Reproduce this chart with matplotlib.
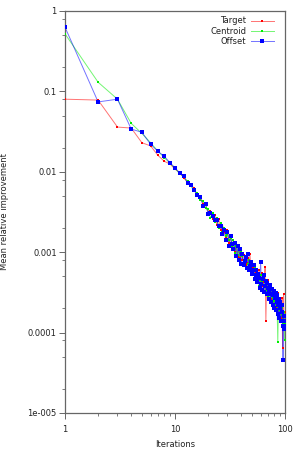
import matplotlib
matplotlib.use('Agg')
import matplotlib.pyplot as plt
from matplotlib.ticker import FixedLocator, FixedFormatter, LogLocator, NullFormatter

iterations = list(range(1, 101))

target = [0.080, 0.078, 0.036, 0.035, 0.023, 0.021, 0.016, 0.0135, 0.0125, 0.0108,
          0.0098, 0.0084, 0.0074, 0.0068, 0.0062, 0.0050, 0.0047, 0.0040, 0.0039, 0.0031,
          0.0033, 0.0026, 0.0029, 0.0022, 0.0026, 0.0019, 0.0022, 0.0018, 0.0015, 0.0019,
          0.0013, 0.0016, 0.0011, 0.0014, 0.0010, 0.0013, 0.00088, 0.0012, 0.00085, 0.0011,
          0.00080, 0.00092, 0.00088, 0.00070, 0.00074, 0.00085, 0.00062, 0.00095, 0.00060, 0.00058,
          0.00066, 0.00070, 0.00050, 0.00055, 0.00062, 0.00045, 0.00048, 0.00060, 0.00052, 0.00040,
          0.00046, 0.00055, 0.00038, 0.00042, 0.00050, 0.00066, 0.00014, 0.00042, 0.00035, 0.00045,
          0.00030, 0.00033, 0.00040, 0.00026, 0.00030, 0.00036, 0.00032, 0.00022, 0.00028, 0.00034,
          0.00025, 0.00020, 0.00030, 0.00027, 0.00018, 0.00024, 0.00031, 0.00016, 0.00022, 0.00026,
          0.00019, 0.00015, 0.00021, 0.00027, 0.000065, 0.00017, 0.00030, 0.00012, 0.00018, 0.00011]

centroid = [0.52, 0.13, 0.080, 0.040, 0.030, 0.023, 0.018, 0.0150, 0.0128, 0.0110,
            0.0095, 0.0087, 0.0076, 0.0066, 0.0057, 0.0054, 0.0044, 0.0043, 0.0035, 0.0034,
            0.0027, 0.0031, 0.0024, 0.0027, 0.0020, 0.0023, 0.0018, 0.0020, 0.0016, 0.0017,
            0.0014, 0.0015, 0.0012, 0.0014, 0.00098, 0.0012, 0.00092, 0.0011, 0.00080, 0.0010,
            0.00090, 0.00075, 0.00082, 0.00078, 0.00065, 0.00072, 0.00080, 0.00058, 0.00066, 0.00062,
            0.00052, 0.00058, 0.00064, 0.00047, 0.00044, 0.00056, 0.00050, 0.00038, 0.00045, 0.00052,
            0.00036, 0.00042, 0.00047, 0.00033, 0.00039, 0.00044, 0.00030, 0.00034, 0.00040, 0.00028,
            0.00036, 0.00031, 0.00024, 0.00029, 0.00035, 0.00022, 0.00027, 0.00030, 0.00021, 0.00025,
            0.00030, 0.00019, 0.00023, 0.00028, 0.00017, 0.000076, 0.00021, 0.00025, 0.00015, 0.00019,
            0.00023, 0.00014, 0.00017, 0.00021, 0.00013, 0.00016, 0.00012, 0.00018, 0.000080, 0.00013]

offset = [0.63, 0.074, 0.080, 0.034, 0.031, 0.022, 0.018, 0.0155, 0.0130, 0.0112,
          0.0097, 0.0088, 0.0073, 0.0069, 0.0060, 0.0051, 0.0049, 0.0038, 0.0040, 0.0030,
          0.0031, 0.0028, 0.0025, 0.0025, 0.0021, 0.0021, 0.0017, 0.0019, 0.0014, 0.0018,
          0.0012, 0.0016, 0.00125, 0.0011, 0.0013, 0.00090, 0.0012, 0.00080, 0.0011, 0.00072,
          0.00095, 0.00070, 0.00078, 0.00088, 0.00064, 0.00094, 0.00060, 0.00068, 0.00075, 0.00054,
          0.00060, 0.00070, 0.00046, 0.00052, 0.00060, 0.00042, 0.00054, 0.00048, 0.00036, 0.00075,
          0.00040, 0.00034, 0.00046, 0.00052, 0.00032, 0.00038, 0.00044, 0.00030, 0.00041, 0.00036,
          0.00026, 0.00034, 0.00039, 0.00024, 0.00030, 0.00035, 0.00022, 0.00029, 0.00033, 0.00020,
          0.00027, 0.00031, 0.00019, 0.00024, 0.00029, 0.00017, 0.00022, 0.00026, 0.00015, 0.00020,
          0.00024, 0.00014, 0.00018, 0.00022, 0.00012, 0.000046, 0.00016, 0.00011, 0.00014, 0.00012]

series_names = ['Target', 'Centroid', 'Offset']
series_colors = ['#ff0000', '#00ee00', '#0000ff']
y_ticks = [1, 0.1, 0.01, 0.001, 0.0001, 0.00001]
y_tick_labels = ['1', '0.1', '0.01', '0.001', '0.0001', '1e-005']
x_ticks = [1, 10, 100]
x_tick_labels = ['1', '10', '100']

plt.rcParams['font.family'] = ['DejaVu Sans']
plt.rcParams['font.size'] = 6

fig = plt.figure(figsize=(3, 4.5), dpi=100)
ax = fig.add_axes([65 / 300, 37 / 450, 220 / 300, 402 / 450])

msizes = [1.5, 1.8, 2.2]
for name, vals, col, ms in zip(series_names, [target, centroid, offset], series_colors, msizes):
    ax.plot(iterations, vals, color=col, alpha=0.55, lw=0.7, zorder=2)
    ax.plot(iterations, vals, ls='none', marker='s', ms=ms, mfc=col, mec=col, mew=0,
            zorder=3)

ax.set_xscale('log')
ax.set_yscale('log')
ax.set_xlim(1, 100)
ax.set_ylim(1e-5, 1)

ax.xaxis.set_major_locator(FixedLocator(x_ticks))
ax.xaxis.set_major_formatter(FixedFormatter(x_tick_labels))
ax.xaxis.set_minor_locator(LogLocator(base=10, subs=(2, 3, 4, 5, 6, 7, 8, 9)))
ax.xaxis.set_minor_formatter(NullFormatter())
ax.yaxis.set_major_locator(FixedLocator(y_ticks))
ax.yaxis.set_major_formatter(FixedFormatter(y_tick_labels))
ax.yaxis.set_minor_locator(LogLocator(base=10, subs=(2, 5, 8)))
ax.yaxis.set_minor_formatter(NullFormatter())

spine_col = '#666666'
for s in ax.spines.values():
    s.set_color(spine_col)
    s.set_linewidth(0.9)
ax.tick_params(which='major', direction='out', length=4, width=0.7, color=spine_col,
               labelcolor='#222222', labelsize=6)
ax.tick_params(which='minor', direction='out', length=2, width=0.6, color=spine_col)
ax.tick_params(axis='x', which='major', pad=5)
ax.tick_params(axis='y', which='major', pad=2)

ax.set_xlabel('Iterations', fontsize=6, color='#222222', labelpad=4)
ax.set_ylabel('Mean relative improvement', fontsize=6, color='#222222')
ax.yaxis.set_label_coords(-0.255, 0.5)

# legend (text right-aligned, sample to the right)
leg_y = [0.976, 0.950, 0.925]
for name, col, ms, yy in zip(series_names, series_colors, msizes, leg_y):
    ax.plot([0.845, 0.95], [yy, yy], transform=ax.transAxes, color=col, alpha=0.55, lw=0.7,
            clip_on=False)
    ax.plot([0.8975], [yy], transform=ax.transAxes, ls='none', marker='s', ms=ms, mfc=col,
            mec=col, mew=0, clip_on=False)
    ax.text(0.823, yy, name, transform=ax.transAxes, ha='right', va='center', fontsize=6,
            color='#222222')

fig.savefig('out.png', dpi=100)
